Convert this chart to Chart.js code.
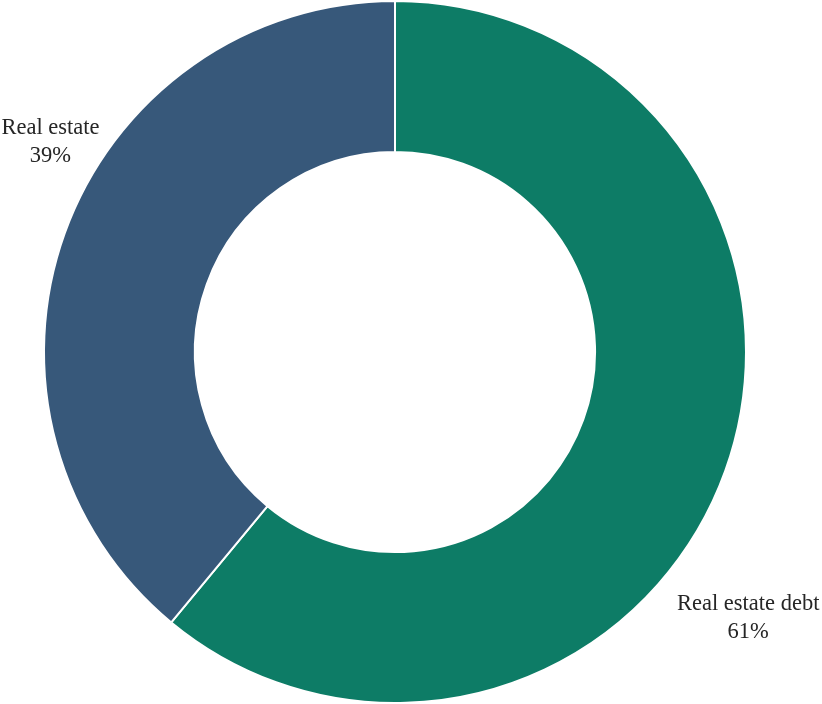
<!DOCTYPE html>
<html>
<head>
<meta charset="utf-8">
<script src="https://cdn.jsdelivr.net/npm/chart.js@4/dist/chart.umd.min.js"></script>
<style>
  html, body { margin: 0; padding: 0; background: #fff; }
  #wrap { width: 822px; height: 704px; }
</style>
</head>
<body>
<div id="wrap"><canvas id="donut"></canvas></div>
<script>
const labels = ["Real estate debt", "Real estate"];
const shares = [61, 39];
const colors = ["#0d7c66", "#37587a"];

// where each label sits: angle (deg, 0 = right, clockwise) and distance as fraction of outer radius
const labelSpots = [
  { angle: 37, dist: 1.26 },
  { angle: 211.4, dist: 1.15 },
];

const sliceLabels = {
  id: "sliceLabels",
  afterDatasetsDraw(chart) {
    const ctx = chart.ctx;
    const meta = chart.getDatasetMeta(0);
    ctx.save();
    ctx.fillStyle = "#262626";
    ctx.font = "22.5px 'Liberation Serif', 'Times New Roman', serif";
    ctx.textAlign = "center";
    ctx.textBaseline = "middle";
    meta.data.forEach((arc, i) => {
      const spot = labelSpots[i];
      const a = (spot.angle * Math.PI) / 180;
      const x = arc.x + Math.cos(a) * arc.outerRadius * spot.dist;
      const y = arc.y + Math.sin(a) * arc.outerRadius * spot.dist;
      ctx.fillText(chart.data.labels[i], x, y - 14);
      ctx.fillText(shares[i] + "%", x, y + 14);
    });
    ctx.restore();
  },
};

new Chart(document.getElementById("donut"), {
  type: "doughnut",
  data: {
    labels: labels,
    datasets: [
      {
        data: shares,
        backgroundColor: colors,
        borderColor: "#ffffff",
        borderWidth: 2,
      },
    ],
  },
  options: {
    responsive: true,
    maintainAspectRatio: false,
    animation: false,
    cutout: "57%",
    layout: { padding: { right: 32 } },
    plugins: {
      legend: { display: false },
      tooltip: { enabled: false },
    },
  },
  plugins: [sliceLabels],
});
</script>
</body>
</html>
